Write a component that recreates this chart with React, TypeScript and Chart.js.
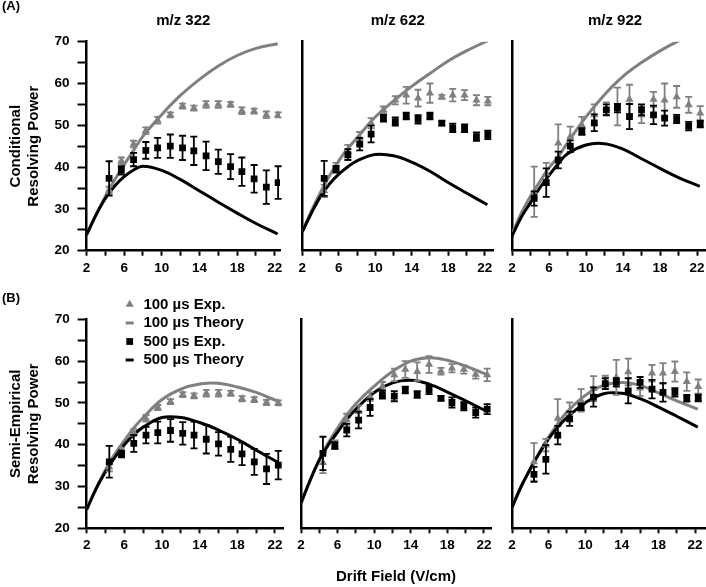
import React, { useEffect, useRef } from 'react';
import { Chart, registerables } from 'chart.js';

Chart.register(...registerables);

// ---------------- data ----------------
const xField = [4.4, 5.7, 7.0, 8.3, 9.55, 10.9, 12.2, 13.4, 14.7, 16.0, 17.3, 18.5, 19.8, 21.1, 22.35];
const theoryX = [2, 3, 4, 5, 6, 7, 8, 10, 12, 14, 16, 18, 20, 22.3];
const xTickValues = [2, 4, 6, 8, 10, 12, 14, 16, 18, 20, 22];
const xTickLabels = [2, 6, 10, 14, 18, 22];
const yTickValues = [20, 25, 30, 35, 40, 45, 50, 55, 60, 65, 70];
const yTickLabels = [20, 30, 40, 50, 60, 70];
const panelTitles = ['m/z 322', 'm/z 622', 'm/z 922'];
const condTitle = ['Conditional', 'Resolving Power'];
const semiTitle = ['Semi-Empirical', 'Resolving Power'];
const legendLabels = ['100 µs Exp.', '100 µs Theory', '500 µs Exp.', '500 µs Theory'];
const xAxisTitle = 'Drift Field (V/cm)';
const figureLabels = ['(A)', '(B)'];

// Conditional, m/z 322
const cond322Exp100 = [34.5, 41.5, 45.5, 48.7, 51.2, 52.5, 54.6, 54.1, 55.0, 55.0, 55.0, 53.5, 53.4, 52.5, 52.5];
const cond322Err100 = [0.8, 0.8, 0.8, 0.8, 0.8, 0.6, 0.6, 0.6, 0.8, 0.8, 0.6, 0.8, 0.6, 0.8, 0.6];
const cond322Exp500 = [37.3, 39.2, 41.8, 44.0, 44.6, 45.0, 44.6, 43.9, 42.7, 41.3, 40.1, 38.9, 37.2, 35.2, 36.3];
const cond322Err500 = [4.1, 1.0, 1.6, 2.0, 2.4, 2.8, 2.9, 3.4, 3.4, 2.9, 3.0, 3.4, 3.3, 4.0, 3.9];
const cond322Theory100 = [23.8, 28.5, 33, 37, 40.6, 44, 47.4, 52.6, 57.2, 61, 64.2, 66.7, 68.4, 69.5];
const cond322Theory500 = [23.8, 28.5, 32.5, 35.5, 37.7, 39.3, 40.2, 39.2, 37.0, 34.3, 31.6, 29.0, 26.5, 24.0];

// Conditional, m/z 622
const cond622Exp100 = [34.3, 40.0, 43.8, 46.9, 50.5, 53.7, 56.0, 57.2, 56.5, 57.7, 56.8, 57.2, 57.2, 56.0, 55.8];
const cond622Err100 = [1.5, 1.0, 1.5, 1.5, 1.2, 0.8, 1.0, 2.0, 2.0, 2.3, 0.5, 1.5, 1.2, 1.2, 1.0];
const cond622Exp500 = [37.3, 39.5, 43.0, 45.5, 47.9, 51.7, 50.9, 52.2, 51.4, 52.2, 50.5, 49.4, 49.3, 47.3, 47.7];
const cond622Err500 = [4.2, 0.8, 1.3, 1.5, 2.0, 0.8, 1.0, 0.8, 1.0, 0.8, 0.5, 1.0, 0.9, 1.0, 1.0];
const cond622Theory100 = [24.5, 29.5, 34, 38, 41.5, 44.5, 47, 52, 55.8, 59.3, 62.4, 65.4, 67.8, 70.2];
const cond622Theory500 = [24.5, 29, 33, 36, 38.3, 40.1, 41.5, 43, 42.7, 41.2, 39, 36.3, 33.8, 31.0];

// Conditional, m/z 922
const cond922Exp100 = [34.1, 38.5, 45.7, 47.3, 50.0, 52.5, 54.0, 54.5, 56.2, 52.5, 56.2, 56.0, 56.8, 54.9, 52.9];
const cond922Err100 = [6.0, 2.5, 4.5, 2.4, 2.0, 2.5, 1.5, 4.5, 3.5, 2.0, 1.8, 4.0, 2.6, 1.9, 1.7];
const cond922Exp500 = [32.5, 36.3, 41.7, 45.0, 48.5, 50.6, 53.7, 54.1, 52.1, 53.7, 52.5, 51.7, 51.5, 49.8, 50.3];
const cond922Err500 = [1.7, 3.4, 2.0, 1.4, 0.8, 2.0, 1.3, 1.0, 3.0, 1.3, 2.2, 1.8, 1.0, 1.0, 0.8];
const cond922Theory100 = [24, 29, 33, 36.5, 39.8, 42.5, 45.8, 52, 57.3, 61.7, 65, 67.8, 70.2, 72.5];
const cond922Theory500 = [23.5, 28, 31.5, 35, 38, 40.8, 43.2, 45.3, 45.6, 44.3, 42, 39.7, 37.5, 35.4];

// Semi-empirical, m/z 322
const semi322Exp100 = [34.6, 38.7, 42.9, 46.3, 48.9, 50.3, 52.0, 51.7, 52.3, 52.3, 52.3, 51.0, 50.8, 50.1, 50.0];
const semi322Err100 = [1.0, 0.6, 0.8, 0.8, 0.6, 0.6, 0.6, 0.6, 0.8, 0.8, 0.6, 0.6, 0.6, 0.6, 0.6];
const semi322Exp500 = [35.9, 37.8, 40.3, 42.3, 42.9, 43.4, 42.7, 42.3, 41.3, 40.2, 38.9, 37.8, 35.9, 34.2, 35.1];
const semi322Err500 = [3.8, 0.8, 2.0, 2.0, 2.6, 2.7, 2.7, 3.2, 3.4, 2.8, 3.0, 2.7, 3.1, 3.6, 3.4];
const semi322Theory100 = [24.5, 29.5, 34, 37.8, 41, 44, 46.5, 50.8, 53.3, 54.5, 54.7, 53.8, 52.5, 50.4];
const semi322Theory500 = [24.5, 29.5, 33.5, 37, 40, 42.4, 44.2, 46.5, 46.5, 45.3, 43.5, 41.3, 38.7, 35.8];

// Semi-empirical, m/z 622
const semi622Exp100 = [35.7, 40.0, 45.9, 47.9, 51.5, 54.0, 56.7, 58.0, 57.5, 59.2, 57.6, 58.3, 58.0, 56.8, 56.7];
const semi622Err100 = [2.5, 1.0, 1.5, 1.5, 1.0, 1.0, 1.5, 2.0, 2.2, 2.0, 0.8, 1.0, 1.0, 1.0, 1.5];
const semi622Exp500 = [37.9, 39.8, 43.5, 45.9, 48.9, 52.0, 51.6, 53.1, 52.0, 53.1, 51.1, 50.1, 49.2, 47.7, 48.5];
const semi622Err500 = [4.0, 0.8, 1.5, 2.0, 2.0, 1.0, 1.2, 0.8, 0.8, 1.0, 0.5, 1.2, 1.0, 1.2, 1.2];
const semi622Theory100 = [26, 31.5, 36.5, 40.5, 44, 47.1, 49.8, 54, 57.5, 60, 60.8, 60.2, 58.8, 56.8];
const semi622Theory500 = [26, 31.5, 36.3, 40, 43, 46, 48.5, 52.5, 54.8, 55.4, 54.5, 52.6, 50.5, 48.0];

// Semi-empirical, m/z 922
const semi922Exp100 = [35.9, 39.9, 46.3, 47.9, 50.6, 53.4, 55.0, 56.1, 57.4, 53.5, 57.1, 57.1, 57.5, 55.1, 53.9];
const semi922Err100 = [4.5, 1.5, 4.6, 2.2, 2.7, 3.0, 1.5, 4.2, 3.2, 1.8, 2.0, 2.4, 2.4, 2.2, 1.7];
const semi922Exp500 = [32.9, 36.5, 42.3, 46.2, 49.1, 51.4, 54.6, 54.9, 52.9, 54.9, 53.3, 52.5, 52.5, 51.1, 51.2];
const semi922Err500 = [1.8, 3.4, 2.2, 1.7, 0.8, 2.3, 1.3, 1.0, 3.0, 1.3, 2.2, 2.2, 1.0, 0.8, 0.8];
const semi922Theory100 = [25, 30, 34.3, 38.2, 41.8, 45, 47.8, 51.8, 54.2, 54.9, 54.2, 52.4, 50.5, 48.5];
const semi922Theory500 = [25, 30, 34.2, 38, 41.4, 44.2, 46.5, 50, 52.2, 52.3, 51, 49, 46.8, 44.2];

// ---------------- styling ----------------
const GRAY = '#808080';
const BLACK = '#000000';
const FONT = "'Liberation Sans', Arial, Helvetica, sans-serif";

Chart.defaults.font.family = FONT;
Chart.defaults.color = BLACK;

type Frame = {
  canvasL: number; canvasT: number; canvasR: number; canvasB: number;
  plotL: number; plotR: number; plotT: number; plotB: number; xMax: number;
};

type PanelSpec = {
  title?: string;
  yTitle?: string[];
  xTitle?: string;
  exp100: number[]; err100: number[];
  exp500: number[]; err500: number[];
  th100: number[]; th500: number[];
  yLabels: boolean;
  legend: boolean;
  frame: Frame;
};

const errorBarPlugin = {
  id: 'errorBars',
  afterDatasetDraw(chart: any, args: any) {
    const ds: any = chart.data.datasets[args.index];
    if (!ds.errors) return;
    const { ctx } = chart;
    const xs = chart.scales.x;
    const ys = chart.scales.y;
    ctx.save();
    ctx.strokeStyle = ds.borderColor;
    ctx.lineWidth = 1.8;
    ds.data.forEach((p: any, j: number) => {
      const e = ds.errors[j];
      const px = xs.getPixelForValue(p.x);
      const yTop = ys.getPixelForValue(p.y + e);
      const yBot = ys.getPixelForValue(p.y - e);
      const cap = 3.5;
      ctx.beginPath();
      ctx.moveTo(px, yTop);
      ctx.lineTo(px, yBot);
      ctx.moveTo(px - cap, yTop);
      ctx.lineTo(px + cap, yTop);
      ctx.moveTo(px - cap, yBot);
      ctx.lineTo(px + cap, yBot);
      ctx.stroke();
    });
    ctx.restore();
  },
};

const insetLegendPlugin = {
  id: 'insetLegend',
  afterDraw(chart: any) {
    const { ctx, chartArea } = chart;
    const mx = chartArea.left + 43;
    const tx = chartArea.left + 56.7;
    let y = chartArea.top - 14.8;
    ctx.save();
    ctx.font = `bold 15px ${FONT}`;
    ctx.textBaseline = 'middle';
    ctx.textAlign = 'left';
    chart.data.datasets.forEach((ds: any) => {
      ctx.fillStyle = ds.borderColor;
      ctx.strokeStyle = ds.borderColor;
      if (ds.showLine) {
        ctx.lineWidth = 3;
        ctx.beginPath();
        ctx.moveTo(mx - 4, y);
        ctx.lineTo(mx + 4, y);
        ctx.stroke();
      } else if (ds.pointStyle === 'triangle') {
        const r = 4.7;
        ctx.beginPath();
        ctx.moveTo(mx, y - r);
        ctx.lineTo(mx + r * 0.866, y + r / 2);
        ctx.lineTo(mx - r * 0.866, y + r / 2);
        ctx.closePath();
        ctx.fill();
      } else {
        const s = 3.4;
        ctx.fillRect(mx - s, y - s, 2 * s, 2 * s);
      }
      ctx.fillStyle = BLACK;
      ctx.fillText(ds.label, tx, y);
      y += 18.5;
    });
    ctx.restore();
  },
};

function buildConfig(spec: PanelSpec): any {
  const f = spec.frame;
  const tickFont = { size: 13.5, weight: 'bold' as const };
  const datasets = [
    {
      label: legendLabels[0],
      data: xField.map((x, i) => ({ x, y: spec.exp100[i] })),
      errors: spec.err100,
      showLine: false,
      pointStyle: 'triangle',
      pointRadius: 4.7,
      pointBorderWidth: 0,
      backgroundColor: GRAY,
      borderColor: GRAY,
      order: 2,
    },
    {
      label: legendLabels[1],
      data: theoryX.map((x, i) => ({ x, y: spec.th100[i] })),
      showLine: true,
      borderColor: GRAY,
      backgroundColor: GRAY,
      borderWidth: 3,
      pointRadius: 0,
      tension: 0.4,
      order: 4,
    },
    {
      label: legendLabels[2],
      data: xField.map((x, i) => ({ x, y: spec.exp500[i] })),
      errors: spec.err500,
      showLine: false,
      pointStyle: 'rect',
      pointRadius: 4.8,
      pointBorderWidth: 0,
      backgroundColor: BLACK,
      borderColor: BLACK,
      order: 1,
    },
    {
      label: legendLabels[3],
      data: theoryX.map((x, i) => ({ x, y: spec.th500[i] })),
      showLine: true,
      borderColor: BLACK,
      backgroundColor: BLACK,
      borderWidth: 3,
      pointRadius: 0,
      tension: 0.4,
      order: 3,
    },
  ];

  const plugins: any[] = [errorBarPlugin];
  if (spec.legend) plugins.push(insetLegendPlugin);

  return {
    type: 'scatter',
    data: { datasets },
    plugins,
    options: {
      responsive: false,
      animation: false,
      events: [],
      layout: {
        autoPadding: false,
        padding: {
          left: 0,
          right: f.canvasR - f.plotR,
          top: spec.title ? 0 : f.plotT - f.canvasT,
          bottom: 0,
        },
      },
      plugins: {
        legend: { display: false },
        tooltip: { enabled: false },
        title: spec.title
          ? {
              display: true,
              text: spec.title,
              color: BLACK,
              fullSize: false,
              font: { size: 15, weight: 'bold', lineHeight: 1.2 },
              padding: { top: 12, bottom: f.plotT - f.canvasT - 12 - 18 },
            }
          : { display: false },
      },
      scales: {
        x: {
          type: 'linear',
          min: 2,
          max: f.xMax,
          afterBuildTicks: (s: any) => {
            s.ticks = xTickValues.map((v) => ({ value: v }));
          },
          afterFit: (s: any) => {
            s.height = f.canvasB - f.plotB;
          },
          ticks: {
            autoSkip: false,
            maxRotation: 0,
            padding: 4,
            color: BLACK,
            font: tickFont,
            callback: (v: any) => (xTickLabels.includes(Number(v)) ? String(v) : ''),
          },
          grid: {
            display: true,
            drawOnChartArea: false,
            drawTicks: true,
            tickLength: 5,
            tickWidth: 2,
            tickColor: BLACK,
          },
          border: { display: true, color: BLACK, width: 2.5 },
          title: spec.xTitle
            ? {
                display: true,
                text: spec.xTitle,
                color: BLACK,
                font: { size: 15, weight: 'bold', lineHeight: 1.2 },
                padding: { top: 0, bottom: 1 },
              }
            : { display: false },
        },
        y: {
          type: 'linear',
          min: 20,
          max: 70,
          afterBuildTicks: (s: any) => {
            s.ticks = yTickValues.map((v) => ({ value: v }));
          },
          afterFit: (s: any) => {
            s.width = f.plotL - f.canvasL;
          },
          ticks: {
            display: spec.yLabels,
            autoSkip: false,
            padding: 8,
            color: BLACK,
            font: tickFont,
            callback: (v: any) => (yTickLabels.includes(Number(v)) ? String(v) : ''),
          },
          grid: {
            display: spec.yLabels,
            drawOnChartArea: false,
            drawTicks: true,
            tickLength: 9,
            tickWidth: 2,
            tickColor: BLACK,
          },
          border: { display: true, color: BLACK, width: 2.5 },
          title: spec.yTitle
            ? {
                display: true,
                text: spec.yTitle,
                color: BLACK,
                font: { size: 15, weight: 'bold', lineHeight: 1.15 },
                padding: { top: 7.5, bottom: 0 },
              }
            : { display: false },
        },
      },
    },
  };
}

function Panel({ spec }: { spec: PanelSpec }) {
  const ref = useRef<HTMLCanvasElement | null>(null);
  const f = spec.frame;
  const w = f.canvasR - f.canvasL;
  const h = f.canvasB - f.canvasT;
  useEffect(() => {
    if (!ref.current) return;
    const chart = new Chart(ref.current, buildConfig(spec));
    return () => chart.destroy();
  }, []);
  return (
    <canvas
      ref={ref}
      width={w}
      height={h}
      style={{ position: 'absolute', left: f.canvasL, top: f.canvasT, width: w, height: h }}
    />
  );
}

const topRow = { canvasT: 0, canvasB: 284, plotT: 41.7, plotB: 250.7 };
const bottomRow = { canvasT: 284, canvasB: 587, plotT: 319.3, plotB: 528.3 };

const panels: PanelSpec[] = [
  {
    title: panelTitles[0], yTitle: condTitle, yLabels: true, legend: false,
    exp100: cond322Exp100, err100: cond322Err100, exp500: cond322Exp500, err500: cond322Err500,
    th100: cond322Theory100, th500: cond322Theory500,
    frame: { ...topRow, canvasL: 0, canvasR: 290, plotL: 86.5, plotR: 280, xMax: 22.55 },
  },
  {
    title: panelTitles[1], yLabels: false, legend: false,
    exp100: cond622Exp100, err100: cond622Err100, exp500: cond622Exp500, err500: cond622Err500,
    th100: cond622Theory100, th500: cond622Theory500,
    frame: { ...topRow, canvasL: 292, canvasR: 501, plotL: 302.3, plotR: 493.3, xMax: 22.95 },
  },
  {
    title: panelTitles[2], yLabels: false, legend: false,
    exp100: cond922Exp100, err100: cond922Err100, exp500: cond922Exp500, err500: cond922Err500,
    th100: cond922Theory100, th500: cond922Theory500,
    frame: { ...topRow, canvasL: 502, canvasR: 726, plotL: 512, plotR: 718, xMax: 24.27 },
  },
  {
    yTitle: semiTitle, yLabels: true, legend: true,
    exp100: semi322Exp100, err100: semi322Err100, exp500: semi322Exp500, err500: semi322Err500,
    th100: semi322Theory100, th500: semi322Theory500,
    frame: { ...bottomRow, canvasL: 0, canvasR: 291, plotL: 86.7, plotR: 283, xMax: 22.85 },
  },
  {
    xTitle: xAxisTitle, yLabels: false, legend: false,
    exp100: semi622Exp100, err100: semi622Err100, exp500: semi622Exp500, err500: semi622Err500,
    th100: semi622Theory100, th500: semi622Theory500,
    frame: { ...bottomRow, canvasL: 292, canvasR: 499, plotL: 301, plotR: 491, xMax: 22.77 },
  },
  {
    yLabels: false, legend: false,
    exp100: semi922Exp100, err100: semi922Err100, exp500: semi922Exp500, err500: semi922Err500,
    th100: semi922Theory100, th500: semi922Theory500,
    frame: { ...bottomRow, canvasL: 502, canvasR: 726, plotL: 512, plotR: 718, xMax: 24.51 },
  },
];

export default function App() {
  const labelStyle: React.CSSProperties = {
    position: 'absolute',
    left: 2,
    fontFamily: FONT,
    fontWeight: 'bold',
    fontSize: 13,
    lineHeight: '13px',
    color: BLACK,
  };
  return (
    <div
      style={{
        position: 'absolute',
        left: 0,
        top: 0,
        width: 706,
        height: 587,
        overflow: 'hidden',
        background: '#ffffff',
      }}
    >
      {panels.map((p, i) => (
        <Panel key={i} spec={p} />
      ))}
      <div style={{ ...labelStyle, top: -1 }}>{figureLabels[0]}</div>
      <div style={{ ...labelStyle, top: 291 }}>{figureLabels[1]}</div>
    </div>
  );
}
